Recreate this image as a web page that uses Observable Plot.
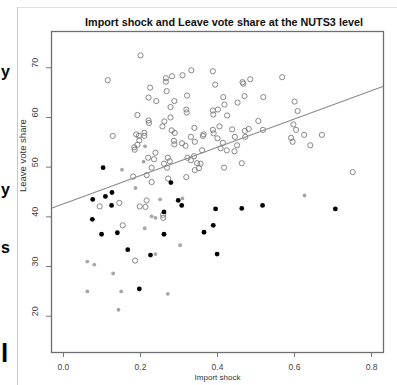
<!DOCTYPE html>
<html><head><meta charset="utf-8">
<script src="https://cdn.jsdelivr.net/npm/d3@7"></script>
<script src="https://cdn.jsdelivr.net/npm/@observablehq/plot@0.6"></script>
<style>
html,body{margin:0;padding:0;background:#fff;}
body{width:397px;height:385px;overflow:hidden;position:relative;font-family:"Liberation Sans",Arial,sans-serif;}
#border{position:absolute;left:17px;top:7px;width:400px;height:400px;border-left:1px solid #c8c8c8;border-top:1px solid #e0e0e0;pointer-events:none;}
#title{position:relative;height:28px;box-sizing:border-box;padding:17px 0 0 51px;line-height:11px;text-align:center;font-weight:bold;font-size:10.8px;color:#111;white-space:nowrap;}
.frag{position:absolute;left:1px;font:bold 16px "Liberation Sans",Arial,sans-serif;color:#000;line-height:1;}
svg{display:block;}
</style></head><body>
<div id="border"></div>
<div class="frag" style="top:64px">y</div>
<div class="frag" style="top:182px">y</div>
<div class="frag" style="top:240px">s</div>
<div class="frag" style="top:340px;font-size:26px">l</div>
<div id="title">Import shock and Leave vote share at the NUTS3 level</div>
<div id="chart"></div>
<script>
// Import shock (x) and Leave vote share (y)
const openPts = [
[0.200,72.5],[0.115,67.5],[0.332,69.5],[0.266,67.9],[0.266,67.2],[0.282,68.3],[0.309,68.5],[0.388,69.3],
[0.394,66.6],[0.465,67.1],[0.467,66.8],[0.485,67.7],[0.568,68.1],[0.225,66.0],[0.268,65.3],[0.221,64.0],
[0.241,63.3],[0.288,63.3],[0.321,64.4],[0.415,64.1],[0.470,64.3],[0.519,64.1],[0.278,62.1],[0.319,61.6],
[0.320,61.0],[0.418,62.6],[0.452,63.0],[0.600,63.2],[0.388,61.4],[0.389,60.6],[0.401,61.6],[0.608,61.3],
[0.192,60.5],[0.425,60.4],[0.221,59.4],[0.222,58.9],[0.278,60.0],[0.262,59.2],[0.506,59.3],[0.257,58.2],
[0.405,58.2],[0.597,58.6],[0.281,57.4],[0.340,57.9],[0.388,57.5],[0.390,56.8],[0.438,57.6],[0.471,57.3],
[0.481,57.7],[0.518,57.5],[0.604,57.5],[0.128,56.3],[0.189,56.6],[0.196,56.3],[0.210,56.9],[0.210,56.3],
[0.289,56.9],[0.331,56.1],[0.362,56.3],[0.364,56.6],[0.400,55.8],[0.445,56.1],[0.472,56.1],[0.625,56.5],
[0.671,56.5],[0.591,55.9],[0.595,55.1],[0.641,54.4],[0.184,54.0],[0.185,53.5],[0.192,54.5],[0.197,55.4],
[0.287,55.3],[0.288,54.6],[0.308,54.8],[0.317,54.3],[0.341,55.1],[0.414,54.9],[0.408,53.8],[0.424,53.4],
[0.451,54.4],[0.444,53.2],[0.360,53.4],[0.239,52.9],[0.220,51.9],[0.235,51.6],[0.271,51.9],[0.276,51.2],
[0.261,50.7],[0.269,49.9],[0.322,51.9],[0.331,51.4],[0.339,52.2],[0.347,50.8],[0.352,49.8],[0.341,49.4],
[0.356,50.7],[0.417,49.9],[0.463,50.8],[0.751,49.0],[0.319,48.0],[0.272,47.7],[0.229,47.0],[0.181,48.1],
[0.216,48.4],[0.229,49.9],[0.216,43.3],[0.198,42.1],[0.213,42.0],[0.145,42.8],[0.094,42.1],[0.259,40.4],
[0.259,39.8],[0.154,38.3],[0.186,31.2]
];
const grayPts = [
[0.303,34.3],[0.239,32.5],[0.062,31.0],[0.080,30.4],[0.129,28.6],[0.062,25.0],[0.150,25.0],[0.271,24.5],
[0.143,21.3],[0.152,49.5],[0.187,45.8],[0.208,51.1],[0.251,43.5],[0.229,40.1],[0.239,39.8],[0.211,37.7],
[0.309,43.7],[0.626,44.3],[0.212,54.2]
];
const blackPts = [
[0.103,49.9],[0.279,46.9],[0.076,43.5],[0.109,44.1],[0.126,44.9],[0.125,42.3],[0.298,43.3],[0.307,42.3],
[0.075,39.5],[0.261,41.0],[0.099,36.5],[0.140,36.8],[0.261,36.5],[0.395,41.6],[0.463,41.7],[0.517,42.3],
[0.706,41.6],[0.389,38.3],[0.365,36.9],[0.167,33.4],[0.226,32.3],[0.399,32.5],[0.197,25.5]
];
const xTicks = [0, 0.2, 0.4, 0.6, 0.8];
const yTicks = [20, 30, 40, 50, 60, 70];
const xDomain = [-0.031, 0.831];
const yDomain = [12.7, 77.3];
const regIntercept = 42.6;
const regSlope = 28.5;
const xLabel = "Import shock";
const yLabel = "Leave vote share";

const fitLine = xDomain.map(x => ({x, y: regIntercept + regSlope * x}));
const font = "Liberation Sans, Arial, sans-serif";

const chart = Plot.plot({
  width: 397, height: 357,
  marginLeft: 51, marginRight: 14, marginTop: 3, marginBottom: 33,
  style: {fontFamily: font, background: "#fff"},
  x: {domain: xDomain},
  y: {domain: yDomain},
  marks: [
    Plot.dot(openPts, {x: d => d[0], y: d => d[1], r: 2.6, stroke: "#7a7a7a", strokeWidth: 0.9, fill: "none"}),
    Plot.dot(grayPts, {x: d => d[0], y: d => d[1], r: 1.9, fill: "#a6a6a6"}),
    Plot.dot(blackPts, {x: d => d[0], y: d => d[1], r: 2.4, fill: "#000"}),
    Plot.line(fitLine, {x: "x", y: "y", stroke: "#8a8a8a", strokeWidth: 1.1}),
    Plot.axisX(xTicks, {tickSize: 5, tickPadding: 6, tickFormat: d3.format(".1f"), fontSize: 8.5, color: "#444", stroke: "#777", label: null}),
    Plot.axisY(yTicks, {tickSize: 5, tickFormat: () => "", stroke: "#777", label: null}),
    Plot.text(yTicks, {y: d => d, text: d => String(d), frameAnchor: "left", rotate: -90, dx: -16, fontSize: 9, fill: "#444"}),
    Plot.text([xLabel], {frameAnchor: "bottom", dy: 27, text: d => d, fontSize: 8, fill: "#333"}),
    Plot.text([yLabel], {frameAnchor: "left", rotate: -90, dx: -29, text: d => d, fontSize: 9.5, fill: "#333"}),
    Plot.frame({stroke: "#6e6e6e", strokeWidth: 1.3})
  ]
});
document.getElementById("chart").appendChild(chart);
</script>
</body></html>
